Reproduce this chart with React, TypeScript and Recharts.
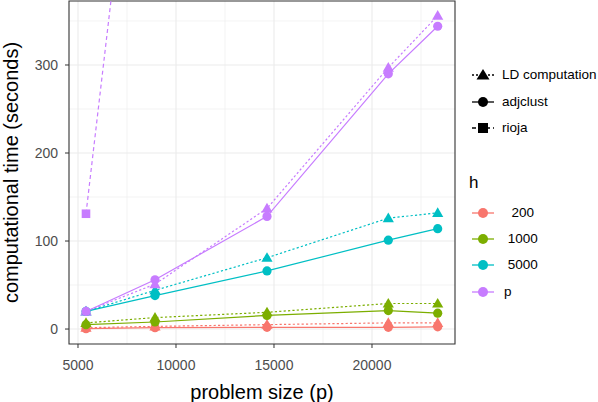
import React from "react";
import {
  LineChart,
  Line,
  XAxis,
  YAxis,
  CartesianGrid,
  ReferenceArea,
} from "recharts";

// problem sizes (p)
const problemSizes = [5408, 8929, 14643, 20832, 23352];

// adjclust timings (seconds), one list per h
const adjH200 = [0.4, 1.5, 2, 2, 2.5];
const adjH1000 = [5, 8, 15.5, 21, 18];
const adjH5000 = [20, 38, 66, 101, 114];
const adjHp = [20, 56, 128, 290, 344];

// LD computation timings (seconds)
const ldH200 = [1.5, 3, 5, 7, 7];
const ldH1000 = [7, 13, 19, 29, 29];
const ldH5000 = [20, 44, 81, 126, 132];
const ldHp = [20, 51, 137, 297, 356];

// rioja only for h = p, second point runs off the top
const riojaSizes = [5408, 8929];
const riojaHp = [131, 800];

const xTicks = [5000, 10000, 15000, 20000];
const xMinor = [7500, 12500, 17500, 22500];
const yTicks = [0, 100, 200, 300];
const yMinor = [50, 150, 250, 350];

const hLevels = ["  200", " 1000", " 5000", "p"];
const colors = ["#F8766D", "#7CAE00", "#00BFC4", "#C77CFF"];

const xDomain = [4541, 24235];
const yDomain = [-17, 372.7];

const FONT = '"Liberation Sans", Arial, Helvetica, sans-serif';

const rows = problemSizes.map((p, i) => ({
  p,
  adj200: adjH200[i],
  adj1000: adjH1000[i],
  adj5000: adjH5000[i],
  adjp: adjHp[i],
  ld200: ldH200[i],
  ld1000: ldH1000[i],
  ld5000: ldH5000[i],
  ldp: ldHp[i],
}));

const riojaRows = riojaSizes.map((p, i) => ({ p, rioja: riojaHp[i] }));

const keys = ["200", "1000", "5000", "p"];

const circle = (color: string) => (props: any) => {
  const { cx, cy, index } = props;
  if (cx == null || cy == null) return <g key={index} />;
  return <circle key={index} cx={cx} cy={cy} r={4.6} fill={color} />;
};

const triangle = (color: string) => (props: any) => {
  const { cx, cy, index } = props;
  if (cx == null || cy == null) return <g key={index} />;
  const s = 5.6;
  return (
    <polygon
      key={index}
      points={`${cx},${cy - s} ${cx - s},${cy + s * 0.72} ${cx + s},${cy + s * 0.72}`}
      fill={color}
    />
  );
};

const square = (color: string) => (props: any) => {
  const { cx, cy, index } = props;
  if (cx == null || cy == null) return <g key={index} />;
  return <rect key={index} x={cx - 4.3} y={cy - 4.3} width={8.6} height={8.6} fill={color} />;
};

function KeyIcon({ shape, dash, color }: { shape: string; dash?: string; color: string }) {
  return (
    <svg width={24} height={14} style={{ display: "block", flex: "none" }}>
      <line x1={1} y1={7} x2={23} y2={7} stroke={color} strokeWidth={1.3} strokeDasharray={dash} />
      {shape === "circle" && <circle cx={12} cy={7} r={5} fill={color} />}
      {shape === "triangle" && <polygon points="12,1 5.5,11.5 18.5,11.5" fill={color} />}
      {shape === "square" && <rect x={7} y={2} width={10} height={10} fill={color} />}
    </svg>
  );
}

const legendText: React.CSSProperties = {
  fontFamily: FONT,
  fontSize: 13.5,
  color: "#000",
  whiteSpace: "pre",
  lineHeight: "14px",
};

export default function App() {
  const tickStyle = { fontSize: 14, fill: "#4d4d4d", fontFamily: FONT };
  return (
    <div style={{ position: "absolute", left: 0, top: 0, width: 598, height: 402, background: "#fff" }}>
      <LineChart
        width={598}
        height={402}
        data={rows}
        margin={{ top: 1, right: 143, left: 0, bottom: 0 }}
      >
        <CartesianGrid
          stroke="#ebebeb"
          strokeWidth={0.6}
          horizontalValues={yMinor}
          verticalValues={xMinor}
        />
        <CartesianGrid
          stroke="#ebebeb"
          strokeWidth={1.1}
          horizontalValues={yTicks}
          verticalValues={xTicks}
        />
        <XAxis
          dataKey="p"
          type="number"
          domain={xDomain}
          ticks={xTicks}
          allowDataOverflow
          axisLine={false}
          tickLine={{ stroke: "#333333" }}
          tickSize={4}
          tickMargin={12}
          tick={tickStyle}
          height={58}
          label={{
            value: "problem size (p)",
            position: "insideBottom",
            offset: 3,
            style: { fontSize: 20, fill: "#000", fontFamily: FONT },
          }}
        />
        <YAxis
          type="number"
          domain={yDomain}
          ticks={yTicks}
          allowDataOverflow
          axisLine={false}
          tickLine={{ stroke: "#333333" }}
          tickSize={4}
          tickMargin={7}
          tick={tickStyle}
          width={69}
          label={{
            value: "computational time (seconds)",
            angle: -90,
            position: "insideLeft",
            offset: 11,
            style: { fontSize: 20, fill: "#000", fontFamily: FONT, textAnchor: "middle" },
          }}
        />
        <ReferenceArea
          x1={xDomain[0]}
          x2={xDomain[1]}
          y1={yDomain[0]}
          y2={yDomain[1]}
          fill="none"
          stroke="#333333"
          strokeWidth={1.1}
          ifOverflow="visible"
        />
        {keys.map((k, i) => (
          <Line
            key={"ld" + k}
            dataKey={"ld" + k}
            stroke={colors[i]}
            strokeWidth={1.2}
            strokeDasharray="2.2 2.2"
            dot={triangle(colors[i])}
            activeDot={false}
            isAnimationActive={false}
          />
        ))}
        {keys.map((k, i) => (
          <Line
            key={"adj" + k}
            dataKey={"adj" + k}
            stroke={colors[i]}
            strokeWidth={1.2}
            dot={circle(colors[i])}
            activeDot={false}
            isAnimationActive={false}
          />
        ))}
        <Line
          data={riojaRows}
          dataKey="rioja"
          stroke={colors[3]}
          strokeWidth={1.2}
          strokeDasharray="4 3"
          dot={square(colors[3])}
          activeDot={false}
          isAnimationActive={false}
        />
      </LineChart>

      <div style={{ position: "absolute", left: 471, top: 62, width: 127, whiteSpace: "nowrap" }}>
        {[
          { label: "LD computation", shape: "triangle", dash: "2 2" },
          { label: "adjclust", shape: "circle", dash: undefined },
          { label: "rioja", shape: "square", dash: "4 3" },
        ].map((it) => (
          <div key={it.label} style={{ display: "flex", alignItems: "center", height: 26.5 }}>
            <KeyIcon shape={it.shape} dash={it.dash} color="#000" />
            <span style={{ ...legendText, marginLeft: 7 }}>{it.label}</span>
          </div>
        ))}
      </div>

      <div
        style={{
          position: "absolute",
          left: 469,
          top: 173,
          fontFamily: FONT,
          fontSize: 17,
          color: "#000",
        }}
      >
        h
      </div>
      <div style={{ position: "absolute", left: 471, top: 200, width: 127, whiteSpace: "nowrap" }}>
        {hLevels.map((lab, i) => (
          <div key={lab} style={{ display: "flex", alignItems: "center", height: 26.2 }}>
            <KeyIcon shape="circle" color={colors[i]} />
            <span style={{ ...legendText, marginLeft: 9 }}>{lab}</span>
          </div>
        ))}
      </div>
    </div>
  );
}
